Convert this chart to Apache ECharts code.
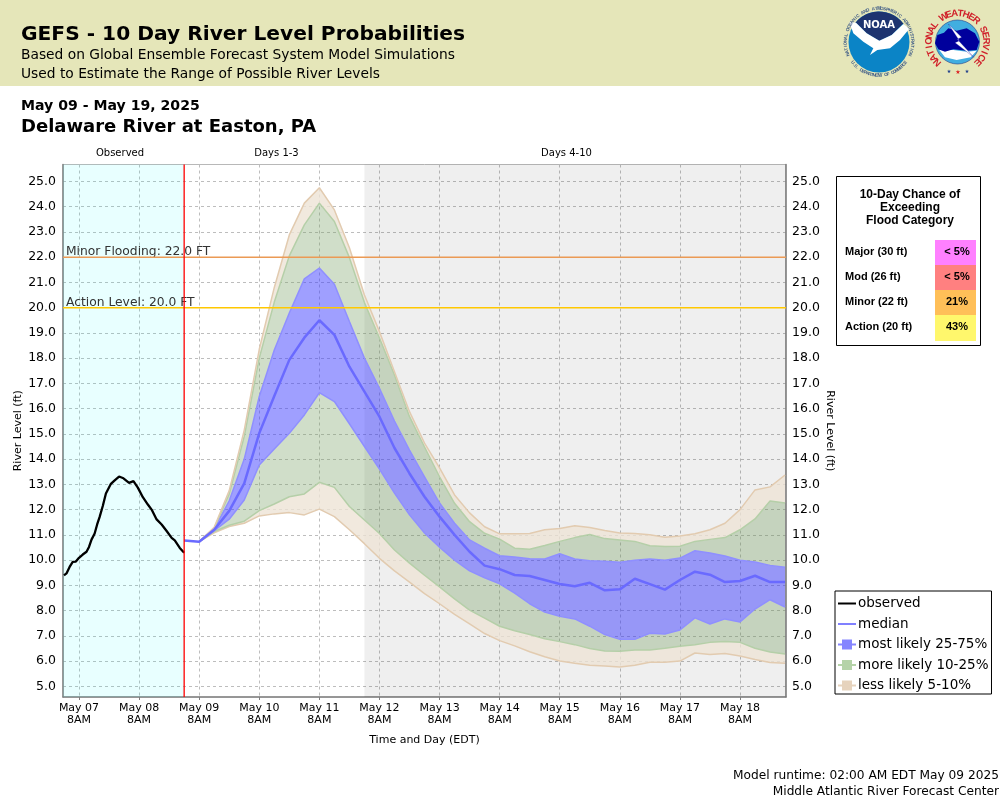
<!DOCTYPE html>
<html>
<head>
<meta charset="utf-8">
<title>GEFS River Level Probabilities</title>
<script src="https://cdn.jsdelivr.net/npm/echarts@6/dist/echarts.min.js"></script>
<style>
html, body { margin: 0; padding: 0; background: #fff; }
#chart { width: 1000px; height: 800px; }
</style>
</head>
<body>
<div id="chart"></div>
<script>
// all times are hours after May 07 8AM
const xMin = -6.39;
const xMax = 282.37;
const yMin = 4.576;
const yMax = 25.67;
const observedEnd = 42;
const days4Start = 114;

const xTicks = [0, 24, 48, 72, 96, 120, 144, 168, 192, 216, 240, 264];
const xTickDays = ['May 07', 'May 08', 'May 09', 'May 10', 'May 11', 'May 12', 'May 13', 'May 14', 'May 15', 'May 16', 'May 17', 'May 18'];
const yTicks = [5, 6, 7, 8, 9, 10, 11, 12, 13, 14, 15, 16, 17, 18, 19, 20, 21, 22, 23, 24, 25];

const obsHours = [-6, -5, -3.75, -2.5, -1.25, 0, 1.5, 3, 4, 5, 6.25, 7.25, 8.25, 9.5, 10.75, 12.75, 14.25, 16, 17.75, 20, 21.75, 23.5, 25.5, 27.5, 29, 31, 33, 35, 37, 38.25, 40.25, 42];
const obsLevels = [9.39, 9.47, 9.73, 9.93, 9.94, 10.09, 10.22, 10.33, 10.52, 10.81, 11.05, 11.41, 11.71, 12.14, 12.64, 13.02, 13.16, 13.31, 13.24, 13.06, 13.13, 12.87, 12.49, 12.2, 12.0, 11.61, 11.41, 11.15, 10.88, 10.78, 10.48, 10.29];

const fcstHours = [48, 54, 60, 66, 72, 78, 84, 90, 96, 102, 108, 114, 120, 126, 132, 138, 144, 150, 156, 162, 168, 174, 180, 186, 192, 198, 204, 210, 216, 222, 228, 234, 240, 246, 252, 258, 264, 270, 276, 282];
const medianStart = [42, 10.78];
const median = [10.73, 11.2, 11.95, 13.04, 15.03, 16.5, 17.93, 18.81, 19.5, 18.92,
  17.66, 16.67, 15.68, 14.44, 13.43, 12.51, 11.72, 11.0, 10.33, 9.78,
  9.64, 9.41, 9.37, 9.21, 9.05, 8.96, 9.1, 8.8, 8.84, 9.26,
  9.05, 8.83, 9.21, 9.54, 9.42, 9.13, 9.17, 9.38, 9.13, 9.13];
const tanUp = [10.73, 11.3, 12.75, 15.15, 18.35, 20.8, 22.88, 24.14, 24.75, 23.87,
  22.37, 20.5, 19.05, 17.46, 15.88, 14.63, 13.65, 12.58, 11.87, 11.32,
  11.04, 11.04, 11.05, 11.2, 11.25, 11.36, 11.29, 11.17, 11.07, 11.05,
  11.0, 10.9, 10.95, 11.04, 11.2, 11.46, 12.0, 12.78, 12.9, 13.37];
const greenUp = [10.73, 11.27, 12.62, 14.9, 18.0, 20.22, 22.05, 23.28, 24.14, 23.41,
  21.98, 20.2, 18.8, 17.33, 15.68, 14.48, 13.3, 12.25, 11.52, 11.06,
  10.83, 10.47, 10.43, 10.58, 10.74, 10.89, 11.01, 10.85, 10.8, 10.74,
  10.57, 10.54, 10.55, 10.74, 10.82, 10.89, 11.2, 11.63, 12.34, 12.26];
const blueUp = [10.73, 11.24, 12.35, 14.0, 16.48, 18.32, 19.79, 21.14, 21.57, 20.93,
  19.45, 18.0, 16.8, 15.51, 14.36, 13.3, 12.26, 11.46, 10.8, 10.47,
  10.17, 10.12, 10.05, 10.04, 10.25, 10.04, 9.97, 9.95, 9.91, 9.99,
  10.04, 9.99, 10.08, 10.37, 10.28, 10.16, 9.99, 9.92, 9.79, 9.72];
const blueLow = [10.73, 11.17, 11.62, 12.38, 13.77, 14.4, 15.02, 15.75, 16.63, 16.28,
  15.4, 14.5, 13.6, 12.65, 11.79, 11.07, 10.51, 10.0, 9.57, 9.3,
  9.06, 8.69, 8.27, 7.94, 7.77, 7.67, 7.38, 7.05, 6.86, 6.86,
  7.1, 7.07, 7.23, 7.71, 7.47, 7.67, 7.55, 8.06, 8.43, 8.14];
const greenLow = [10.73, 11.13, 11.38, 11.54, 11.96, 12.22, 12.51, 12.62, 13.08, 12.88,
  12.12, 11.59, 11.05, 10.4, 9.88, 9.4, 8.94, 8.46, 8.02, 7.7,
  7.38, 7.2, 7.05, 6.88, 6.77, 6.65, 6.5, 6.4, 6.39, 6.44,
  6.44, 6.51, 6.59, 6.65, 6.74, 6.77, 6.74, 6.51, 6.36, 6.28];
const tanLow = [10.73, 11.08, 11.33, 11.46, 11.75, 11.83, 11.88, 11.79, 12.02, 11.72,
  11.2, 10.65, 10.07, 9.57, 9.13, 8.67, 8.27, 7.85, 7.47, 7.09,
  6.81, 6.6, 6.37, 6.17, 6.0, 5.91, 5.83, 5.8, 5.76, 5.83,
  5.95, 5.95, 6.0, 6.32, 6.26, 6.3, 6.2, 6.06, 5.94, 5.91];

const floodLevels = [22, 20];
const floodLabels = ['Minor Flooding: 22.0 FT', 'Action Level: 20.0 FT'];
const floodColors = ['#eb9a55', '#ffc800'];
const chanceLabels = ['Major (30 ft)', 'Mod (26 ft)', 'Minor (22 ft)', 'Action (20 ft)'];
const chanceValues = ['< 5%', '< 5%', '21%', '43%'];
const chanceColors = ['#ff80ff', '#ff8080', '#ffbf58', '#fff76c'];

const SANS = '"DejaVu Sans"';
const ARIAL = '"Liberation Sans"';
const BLUE_FILL = 'rgba(64,64,255,0.5)';
const GREEN_FILL = 'rgba(120,160,100,0.35)';
const TAN_FILL = 'rgba(238,228,214,0.8)';
const BLUE_EDGE = '#8f8fff';
const GREEN_EDGE = '#b5cfa8';
const TAN_EDGE = '#e2cbb0';

const text = (x, y, str, font, extra) => ({
  type: 'text', silent: true,
  style: Object.assign({ x, y, text: str, font, fill: '#000', textVerticalAlign: 'middle' }, extra)
});

// one rotated letter per glyph, a = degrees clockwise from the top of the circle
const ringText = (cx, cy, r, str, from, to, font, fill) => str.split('').map((ch, i) => {
  const a = (from + (to - from) * i / (str.length - 1)) * Math.PI / 180;
  const flip = to < from ? Math.PI : 0;
  return {
    type: 'text', silent: true,
    x: cx + r * Math.sin(a), y: cy - r * Math.cos(a), rotation: -(a - flip),
    style: { x: 0, y: 0, text: ch, font, fill, align: 'center', verticalAlign: 'middle' }
  };
});

const zoomPts = pts => pts.map(p => [820 + p[0] / 3, p[1] / 3]);

const noaaLogo = () => {
  const cx = 879, cy = 42, r = 30.5;
  const arc = [];
  for (let d = -58; d <= 58; d += 8) {
    arc.push([cx + r * Math.sin(d * Math.PI / 180), cy - r * Math.cos(d * Math.PI / 180)]);
  }
  const navy = arc.concat(zoomPts([[248, 72], [215, 105], [178, 122], [140, 100], [108, 68]]));
  const bird = zoomPts([[88, 66], [108, 68], [140, 100], [178, 122], [215, 105], [250, 72], [268, 86], [240, 120], [210, 145], [172, 150], [150, 165], [160, 145], [130, 125], [100, 100]]);
  return [
    { type: 'circle', silent: true, shape: { cx, cy, r }, style: { fill: '#0b84c6' } },
    { type: 'polygon', silent: true, shape: { points: navy }, style: { fill: '#1d3470' } },
    { type: 'polygon', silent: true, shape: { points: bird }, style: { fill: '#fff' } },
    text(cx, 25, 'NOAA', 'bold 10px ' + SANS, { fill: '#fff', align: 'center' })
  ].concat(
    ringText(cx, cy, 33.5, 'NATIONAL OCEANIC AND ATMOSPHERIC ADMINISTRATION', -112, 112, 'bold 4.5px ' + ARIAL, '#3d5a86'),
    ringText(cx, cy, 33.5, 'U.S. DEPARTMENT OF COMMERCE', 232, 128, 'bold 4.5px ' + ARIAL, '#3d5a86')
  );
};

const nwsLogo = () => {
  const cx = 957.5, cy = 42, r = 22;
  const cloud = zoomPts([[345, 130], [352, 105], [372, 98], [385, 85], [410, 92], [440, 85], [465, 100], [478, 125], [470, 150], [440, 152], [400, 148], [375, 155], [355, 148]]);
  const white = zoomPts([[358, 150], [400, 150], [440, 155], [470, 152], [452, 172], [410, 180], [375, 172]]);
  const bolt = zoomPts([[385, 72], [425, 112], [412, 118], [462, 172], [405, 128], [418, 122]]);
  return [
    { type: 'circle', silent: true, shape: { cx, cy, r }, style: { fill: '#41aee0', stroke: '#1b3a8a', lineWidth: 0.6 } },
    { type: 'polygon', silent: true, shape: { points: white }, style: { fill: '#fff' } },
    { type: 'polygon', silent: true, shape: { points: cloud }, style: { fill: '#00009c' } },
    { type: 'polygon', silent: true, shape: { points: bolt }, style: { fill: '#fff', stroke: '#00009c', lineWidth: 0.3 } },
    text(949, 71.5, '★', '5px ' + SANS, { fill: '#1b3a8a', align: 'center' }),
    text(958, 72.5, '★', '6px ' + SANS, { fill: '#d22', align: 'center' }),
    text(967, 71.5, '★', '5px ' + SANS, { fill: '#1b3a8a', align: 'center' })
  ].concat(
    ringText(cx, cy, 28.5, 'NATIONAL WEATHER SERVICE', -135, 135, 'bold 9.5px ' + ARIAL, '#d0202a')
  );
};

const panelGraphics = () => {
  const out = [
    { type: 'rect', silent: true, shape: { x: 836.5, y: 176.5, width: 144, height: 169 }, style: { fill: '#fff', stroke: '#000', lineWidth: 1 } },
    text(910, 195, '10-Day Chance of', 'bold 12px ' + ARIAL, { align: 'center' }),
    text(910, 208, 'Exceeding', 'bold 12px ' + ARIAL, { align: 'center' }),
    text(910, 221, 'Flood Category', 'bold 12px ' + ARIAL, { align: 'center' })
  ];
  chanceLabels.forEach((label, i) => {
    const top = 240 + i * 25;
    out.push({ type: 'rect', silent: true, shape: { x: 935, y: top, width: 41, height: i === 3 ? 26 : 25 }, style: { fill: chanceColors[i] } });
    out.push(text(845, top + 11.5, label, 'bold 11px ' + ARIAL));
    out.push(text(957, top + 11.5, chanceValues[i], 'bold 11px ' + ARIAL, { align: 'center' }));
  });
  return out;
};

const headerGraphics = () => [
  { type: 'rect', silent: true, z: -1, shape: { x: 0, y: 0, width: 1000, height: 86 }, style: { fill: '#e5e6b9' } },
  text(21, 34.5, 'GEFS - 10 Day River Level Probabilities', 'bold 20.2px ' + SANS),
  text(21, 55, 'Based on Global Ensemble Forecast System Model Simulations', '13.8px ' + SANS),
  text(21, 74, 'Used to Estimate the Range of Possible River Levels', '13.8px ' + SANS),
  text(21, 106, 'May 09 - May 19, 2025', 'bold 14.1px ' + SANS),
  text(21, 127.5, 'Delaware River at Easton, PA', 'bold 18px ' + SANS),
  text(120, 153.5, 'Observed', '10px ' + SANS, { align: 'center' }),
  text(276.5, 153.5, 'Days 1-3', '10px ' + SANS, { align: 'center' }),
  text(566.5, 153.5, 'Days 4-10', '10px ' + SANS, { align: 'center' }),
  text(999, 775.5, 'Model runtime: 02:00 AM EDT May 09 2025', '12.2px ' + SANS, { align: 'right' }),
  text(999, 791.5, 'Middle Atlantic River Forecast Center', '12.2px ' + SANS, { align: 'right' })
];

// band edges are drawn as a stack, so each layer holds the gap to the edge below it.
// level comes first in each row: echarts stacks the first value column it finds
const rows = values => fcstHours.map((h, i) => [values[i], h]);
const gap = (upper, lower) => fcstHours.map((h, i) => [+(upper[i] - lower[i]).toFixed(2), h]);

const band = (name, data, fill, edge) => ({
  type: 'line', name, data, stack: 'range', encode: { x: 1, y: 0 }, symbol: 'none', z: 2,
  lineStyle: { color: edge, width: 1.5 },
  itemStyle: { color: edge },
  areaStyle: { color: fill, opacity: 1 }
});

// plain two point line, the markLine is only there to carry the text
const refLine = (name, data, color, width, labelItem) => ({
  type: 'line', name, data, symbol: 'none', z: 5, silent: true,
  lineStyle: { color, width },
  markLine: labelItem && {
    silent: true, symbol: 'none', animation: false,
    lineStyle: { color: 'rgba(0,0,0,0)', width: 0 },
    data: [labelItem]
  }
});

const levelLabel = i => ({
  yAxis: floodLevels[i],
  label: { formatter: floodLabels[i], position: 'insideStartTop', distance: [3, -1], color: '#333', fontSize: 12.3, fontFamily: SANS }
});

const MOST = 'most likely 25-75%';
const MORE = 'more likely 10-25%';
const LESS = 'less likely 5-10%';
const LINE_ICON = 'path://M0 0h18v2H0z';
const BOX_ICON = 'path://M0 4h4V0h10v4h4v2h-4v4H4V6H0z';

const chart = echarts.init(document.getElementById('chart'));
chart.setOption({
  animation: false,
  backgroundColor: '#fff',
  textStyle: { fontFamily: SANS },
  grid: { left: 63, right: 214, top: 164.5, bottom: 103, show: true, borderColor: '#b8b8b8', borderWidth: 1 },
  xAxis: {
    type: 'value', min: xMin, max: xMax,
    name: 'Time and Day (EDT)', nameLocation: 'middle', nameGap: 38,
    nameTextStyle: { color: '#000', fontSize: 11, fontFamily: SANS },
    axisLine: { show: true, onZero: false, lineStyle: { color: '#808080', width: 1.5 } },
    axisTick: { show: true, length: 3, customValues: xTicks, lineStyle: { color: '#808080' } },
    axisLabel: {
      customValues: xTicks, color: '#000', fontSize: 11, lineHeight: 12, margin: 5, hideOverlap: false,
      formatter: v => xTickDays[xTicks.indexOf(v)] + '\n8AM'
    },
    splitLine: { show: true, lineStyle: { color: '#bdbdbd', type: [3, 3], width: 1 } }
  },
  yAxis: [{
    type: 'value', min: yMin, max: yMax, position: 'left',
    name: 'River Level (ft)', nameLocation: 'middle', nameGap: 39, nameRotate: 90, nameMoveOverlap: false,
    nameTextStyle: { color: '#000', fontSize: 11, fontFamily: SANS },
    axisLine: { show: true, onZero: false, lineStyle: { color: '#808080', width: 1.5 } },
    axisTick: { show: false, customValues: yTicks },
    axisLabel: { customValues: yTicks, color: '#000', fontSize: 12.5, margin: 7, formatter: v => v.toFixed(1) },
    splitLine: { show: true, lineStyle: { color: '#bdbdbd', type: [3, 3], width: 1 } }
  }, {
    type: 'value', min: yMin, max: yMax, position: 'right',
    name: 'River Level (ft)', nameLocation: 'middle', nameGap: 38, nameRotate: -90, nameMoveOverlap: false,
    nameTextStyle: { color: '#000', fontSize: 11, fontFamily: SANS },
    axisLine: { show: true, onZero: false, lineStyle: { color: '#808080', width: 1.5 } },
    axisTick: { show: false, customValues: yTicks },
    axisLabel: { customValues: yTicks, color: '#000', fontSize: 12.5, margin: 6, formatter: v => v.toFixed(1) },
    splitLine: { show: false }
  }],
  legend: {
    left: 835, top: 591, orient: 'vertical', selectedMode: false,
    backgroundColor: '#fff', borderColor: '#000', borderWidth: 1, borderRadius: 0,
    padding: [5.5, 3, 1.5, 3], itemWidth: 18, itemHeight: 14, itemGap: 6.5,
    textStyle: { color: '#000', fontSize: 13.5, fontFamily: SANS, padding: [0, 0, 0, -3] },
    data: [
      { name: 'observed', icon: LINE_ICON, itemStyle: { color: '#000' } },
      { name: 'median', icon: LINE_ICON, itemStyle: { color: '#8080ff' } },
      { name: MOST, icon: BOX_ICON, itemStyle: { color: '#8585ff' } },
      { name: MORE, icon: BOX_ICON, itemStyle: { color: '#b5d3a8' } },
      { name: LESS, icon: BOX_ICON, itemStyle: { color: '#e6d3bd' } }
    ]
  },
  graphic: [{ type: 'group', silent: true, children: headerGraphics().concat(noaaLogo(), nwsLogo(), panelGraphics()) }],
  series: [
    {
      type: 'line', name: 'floor', data: rows(tanLow), stack: 'range', encode: { x: 1, y: 0 }, symbol: 'none', z: 2,
      lineStyle: { color: TAN_EDGE, width: 1.5 },
      markArea: {
        silent: true,
        data: [
          [{ xAxis: xMin, itemStyle: { color: 'rgba(0,255,255,0.09)' } }, { xAxis: observedEnd }],
          [{ xAxis: days4Start, itemStyle: { color: 'rgba(0,0,0,0.063)' } }, { xAxis: xMax }]
        ]
      }
    },
    band(LESS, gap(greenLow, tanLow), TAN_FILL, GREEN_EDGE),
    band(MORE, gap(blueLow, greenLow), GREEN_FILL, BLUE_EDGE),
    band(MOST, gap(blueUp, blueLow), BLUE_FILL, BLUE_EDGE),
    band(MORE, gap(greenUp, blueUp), GREEN_FILL, GREEN_EDGE),
    band(LESS, gap(tanUp, greenUp), TAN_FILL, TAN_EDGE),
    {
      type: 'line', name: 'median', symbol: 'none', z: 3,
      data: [medianStart].concat(fcstHours.map((h, i) => [h, median[i]])),
      lineStyle: { color: '#6a6aff', width: 2.5 },
      itemStyle: { color: '#6a6aff' }
    },
    {
      type: 'line', name: 'observed', symbol: 'none', z: 4,
      data: obsHours.map((h, i) => [h, obsLevels[i]]),
      lineStyle: { color: '#000', width: 2.3 },
      itemStyle: { color: '#000' }
    },
    refLine('minor level', [[xMin, floodLevels[0]], [xMax, floodLevels[0]]], floodColors[0], 1.5, levelLabel(0)),
    refLine('action level', [[xMin, floodLevels[1]], [xMax, floodLevels[1]]], floodColors[1], 1.5, levelLabel(1)),
    refLine('forecast start', [[observedEnd, yMin], [observedEnd, yMax]], '#ff0000', 1.3)
  ]
});
window.onresize = () => chart.resize();
</script>
</body>
</html>
